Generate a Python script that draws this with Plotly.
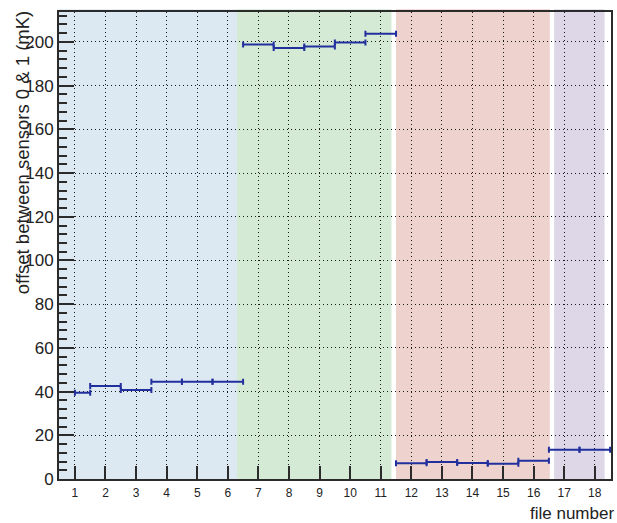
import plotly.graph_objects as go

# ---- data ----
file_number = list(range(1, 19))
offset_mK = [39.5, 42.6, 40.7, 44.5, 44.5, 44.5,
             198.8, 197.2, 197.9, 199.7, 203.7,
             7.2, 7.8, 7.3, 7.0, 8.4,
             13.4, 13.4]
x_err_minus = [0.0] + [0.5] * 17
x_err_plus = [0.5] * 18

x_tick_vals = list(range(1, 19))
y_tick_vals = list(range(0, 201, 20))

# group bands (file-number ranges)
band_start = [0.48, 6.30, 11.50, 16.67]
band_end = [6.30, 11.35, 16.53, 18.32]
band_color = ["#dce8f2", "#d4ead5", "#eed2ce", "#ddd7e8"]

fig = go.Figure()

fig.add_trace(go.Scatter(
    x=file_number, y=offset_mK, mode="markers",
    marker=dict(size=2, color="#22309e", opacity=0),
    error_x=dict(type="data", symmetric=False, array=x_err_plus,
                 arrayminus=x_err_minus, color="#22309e",
                 thickness=2, width=3),
    showlegend=False, hoverinfo="x+y",
))

for x0, x1, c in zip(band_start, band_end, band_color):
    fig.add_shape(type="rect", xref="x", yref="paper", x0=x0, x1=x1,
                  y0=0, y1=1.006, fillcolor=c, line=dict(width=0),
                  layer="below")

axis_common = dict(
    showline=True, linecolor="#2b2b2b", linewidth=2, mirror=True,
    ticks="inside", tickcolor="#2b2b2b", tickwidth=2,
    showgrid=True, gridcolor="#1a1a1a", griddash="1px,3px", gridwidth=1.2,
    zeroline=False,
)

fig.update_xaxes(
    range=[0.48, 18.53], tickvals=x_tick_vals, ticklen=13,
    tickfont=dict(family="Liberation Sans, Arial", size=12, color="#222"),
    ticklabelstandoff=2,
    **axis_common,
)
fig.update_yaxes(
    range=[0, 213.7], tickvals=y_tick_vals, ticklen=15,
    tickfont=dict(family="Liberation Sans, Arial", size=17, color="#222"),
    minor=dict(dtick=4, ticklen=8, ticks="inside", tickcolor="#2b2b2b",
               tickwidth=1.5, showgrid=False),
    **axis_common,
)

fig.add_annotation(
    text="offset between sensors 0 &amp; 1 (mK)", textangle=-90,
    xref="paper", yref="paper", x=-0.067, y=1.005,
    xanchor="center", yanchor="top", showarrow=False,
    font=dict(family="Liberation Sans, Arial", size=18.5, color="#222"),
)
fig.add_annotation(
    text="file number", xref="paper", yref="paper", x=1.009, y=-0.073,
    xanchor="right", yanchor="middle", showarrow=False,
    font=dict(family="Liberation Sans, Arial", size=17, color="#222"),
)

fig.update_layout(
    width=617, height=523,
    margin=dict(l=59, r=4, t=12, b=44),
    paper_bgcolor="white", plot_bgcolor="white",
    showlegend=False,
)

fig.write_html("out.html", config={"displayModeBar": False},
               post_script="document.body.style.margin='0';")
